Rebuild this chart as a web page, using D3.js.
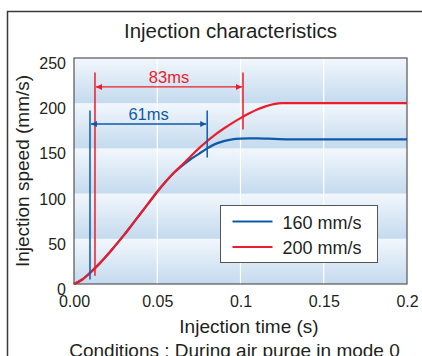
<!DOCTYPE html>
<html>
<head>
<meta charset="utf-8">
<script src="https://cdn.jsdelivr.net/npm/d3@7"></script>
<style>
  body { margin: 0; background: #fff; }
  text { font-family: "Liberation Sans", Arial, sans-serif; fill: #231f20; }
</style>
</head>
<body>
<div id="chart"></div>
<script>
// data
const timeRed = [0, 0.005, 0.01, 0.015, 0.02, 0.025, 0.03, 0.035, 0.04, 0.045, 0.05, 0.055, 0.06, 0.065, 0.07, 0.075, 0.08, 0.085, 0.09, 0.095, 0.1, 0.105, 0.11, 0.115, 0.12, 0.125, 0.2];
const speedRed = [0, 5, 13, 22, 32, 43, 54, 66, 78, 90, 102, 113, 123, 132, 141, 150, 158, 165.5, 172, 178, 183.5, 188.5, 193, 196.5, 199, 200, 200];
const timeBlue = [0, 0.005, 0.01, 0.015, 0.02, 0.025, 0.03, 0.035, 0.04, 0.045, 0.05, 0.055, 0.06, 0.065, 0.07, 0.075, 0.08, 0.085, 0.09, 0.095, 0.1, 0.105, 0.11, 0.12, 0.13, 0.2];
const speedBlue = [0, 5, 13, 22, 32, 43, 54, 66, 78, 90, 102, 113, 123, 131, 138, 144, 150, 155, 158, 160, 160.8, 161, 161, 160.5, 160, 160];
const seriesNames = ["160 mm/s", "200 mm/s"];
const xTicks = [0, 0.05, 0.1, 0.15, 0.2];
const xTickLabels = ["0.00", "0.05", "0.1", "0.15", "0.2"];
const yTicks = [0, 50, 100, 150, 200, 250];
// dimension markers (time span and speed levels)
const dimBlue = { t0: 0.0096, t1: 0.08, label: "61ms", arrowY: 177, top: 192, bottomLeft: 5, bottomRight: 140 };
const dimRed = { t0: 0.0126, t1: 0.1015, label: "83ms", arrowY: 218, top: 234, bottomLeft: 9, bottomRight: 171 };

const width = 422, height = 356;
const margin = { top: 58, right: 15, bottom: 72, left: 74 };
const RED = "#ec1c2a", BLUE = "#0f5aa8";
const FONT = "Liberation Sans, Arial, sans-serif";

const svg = d3.select("#chart").append("svg").attr("width", width).attr("height", height);

const x = d3.scaleLinear().domain([0, 0.2]).range([margin.left, width - margin.right]);
const y = d3.scaleLinear().domain([0, 250]).range([height - margin.bottom, margin.top]);

// outer frame (runs off the right and bottom edges)
svg.append("rect").attr("x", 7.5).attr("y", 11.5).attr("width", 430).attr("height", 370)
  .attr("fill", "none").attr("stroke", "#3a3a3a").attr("stroke-width", 1.5);

const defs = svg.append("defs");
const grad = defs.append("linearGradient").attr("id", "band").attr("x1", 0).attr("y1", 0).attr("x2", 0).attr("y2", 1);
grad.append("stop").attr("offset", "0%").attr("stop-color", "#f2f7fc");
grad.append("stop").attr("offset", "100%").attr("stop-color", "#c4daee");

// banded background, one gradient per 50 units
svg.append("g").selectAll("rect").data(d3.range(0, 250, 50)).join("rect")
  .attr("x", x(0)).attr("width", x(0.2) - x(0))
  .attr("y", d => y(d + 50)).attr("height", d => y(d) - y(d + 50))
  .attr("fill", "url(#band)");

// vertical white grid lines
svg.append("g").selectAll("line").data(xTicks.slice(1, -1)).join("line")
  .attr("x1", d => x(d)).attr("x2", d => x(d))
  .attr("y1", y(250)).attr("y2", y(0))
  .attr("stroke", "#fff").attr("stroke-width", 1.2);

// plot border
svg.append("rect").attr("x", x(0)).attr("y", y(250)).attr("width", x(0.2) - x(0)).attr("height", y(0) - y(250))
  .attr("fill", "none").attr("stroke", "#555").attr("stroke-width", 1.2);

// axes
const xAxis = svg.append("g").attr("transform", `translate(0,${y(0)})`)
  .call(d3.axisBottom(x).tickValues(xTicks).tickFormat((d, i) => xTickLabels[i]).tickSize(0).tickPadding(12));
xAxis.select(".domain").remove();
xAxis.selectAll("text").attr("font-size", 16).style("font-family", FONT).attr("fill", "#231f20");

const yAxis = svg.append("g").attr("transform", `translate(${x(0)},0)`)
  .call(d3.axisLeft(y).tickValues(yTicks).tickSize(0).tickPadding(8));
yAxis.select(".domain").remove();
yAxis.selectAll("text").attr("font-size", 16).attr("dy", "0.65em").style("font-family", FONT).attr("fill", "#231f20");

// curves
const line = d3.line().x(d => x(d[0])).y(d => y(d[1])).curve(d3.curveMonotoneX);
svg.append("path").datum(d3.zip(timeBlue, speedBlue)).attr("d", line)
  .attr("fill", "none").attr("stroke", BLUE).attr("stroke-width", 2.2);
svg.append("path").datum(d3.zip(timeRed, speedRed)).attr("d", line)
  .attr("fill", "none").attr("stroke", RED).attr("stroke-width", 2.2);

// dimension markers
function drawDim(d, color) {
  const g = svg.append("g").attr("stroke", color).attr("fill", color);
  g.append("line").attr("x1", x(d.t0)).attr("x2", x(d.t0)).attr("y1", y(d.top)).attr("y2", y(d.bottomLeft)).attr("stroke-width", 1.5);
  g.append("line").attr("x1", x(d.t1)).attr("x2", x(d.t1)).attr("y1", y(d.top)).attr("y2", y(d.bottomRight)).attr("stroke-width", 1.5);
  g.append("line").attr("x1", x(d.t0) + 1).attr("x2", x(d.t1) - 1).attr("y1", y(d.arrowY)).attr("y2", y(d.arrowY)).attr("stroke-width", 1.3);
  const ay = y(d.arrowY);
  g.append("path").attr("stroke", "none")
    .attr("d", `M${x(d.t0) + 1},${ay} l6,-3 l0,6 z M${x(d.t1) - 1},${ay} l-6,-3 l0,6 z`);
  svg.append("text").attr("x", (x(d.t0) + x(d.t1)) / 2).attr("y", ay - 3.5)
    .attr("text-anchor", "middle").attr("font-size", 16.5).style("fill", color).text(d.label);
}
drawDim(dimRed, RED);
drawDim(dimBlue, BLUE);

// legend
const legend = svg.append("g").attr("transform", "translate(220.5,205.5)");
legend.append("rect").attr("width", 157).attr("height", 57).attr("fill", "#fff").attr("stroke", "#555").attr("stroke-width", 1);
[BLUE, RED].forEach((c, i) => {
  const row = legend.append("g").attr("transform", `translate(0,${16 + i * 25.5})`);
  row.append("line").attr("x1", 12).attr("x2", 52).attr("stroke", c).attr("stroke-width", 2.2);
  row.append("text").attr("x", 62).attr("dy", "0.4em").attr("font-size", 18).text(seriesNames[i]);
});

// titles
svg.append("text").attr("x", 230.5).attr("y", 38).attr("text-anchor", "middle").attr("font-size", 20.5).text("Injection characteristics");
svg.append("text").attr("transform", `translate(29,${(y(0) + y(250)) / 2}) rotate(-90)`)
  .attr("text-anchor", "middle").attr("font-size", 19).text("Injection speed (mm/s)");
svg.append("text").attr("x", 249).attr("y", 333).attr("text-anchor", "middle").attr("font-size", 19).text("Injection time (s)");
svg.append("text").attr("x", 234.5).attr("y", 357).attr("text-anchor", "middle").attr("font-size", 19).text("Conditions : During air purge in mode 0");
</script>
</body>
</html>
